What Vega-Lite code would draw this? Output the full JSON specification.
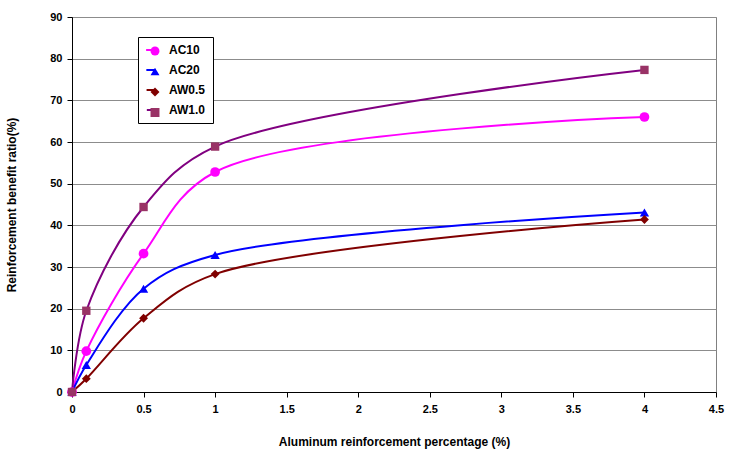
{
  "$schema": "https://vega.github.io/schema/vega-lite/v6.json",
  "width": 644,
  "height": 375,
  "autosize": {"type": "none"},
  "padding": {"left": 72, "top": 17, "right": 19, "bottom": 72},
  "background": "white",
  "config": {
    "font": "Liberation Sans",
    "view": {"stroke": "#808080", "strokeWidth": 1},
    "axis": {
      "labelFont": "Liberation Sans",
      "labelFontWeight": "bold",
      "labelFontSize": 11,
      "labelColor": "black",
      "labelFlush": false,
      "titleFont": "Liberation Sans",
      "titleFontWeight": "bold",
      "titleFontSize": 12,
      "titleColor": "black",
      "domainColor": "black",
      "tickColor": "black",
      "tickSize": 5,
      "gridColor": "#8c8c8c",
      "gridOpacity": 1
    },
    "legend": {
      "orient": "none",
      "labelFont": "Liberation Sans",
      "labelFontSize": 12,
      "labelFontWeight": "bold",
      "labelColor": "black",
      "padding": 7,
      "title": null
    }
  },
  "data": {
    "values": [
      {"x": 0, "y": 0, "s": "AC10"},
      {"x": 0.1, "y": 9.8, "s": "AC10"},
      {"x": 0.5, "y": 33.2, "s": "AC10"},
      {"x": 1, "y": 52.8, "s": "AC10"},
      {"x": 4, "y": 66.0, "s": "AC10"},
      {"x": 0, "y": 0, "s": "AC20"},
      {"x": 0.1, "y": 6.5, "s": "AC20"},
      {"x": 0.5, "y": 24.8, "s": "AC20"},
      {"x": 1, "y": 32.9, "s": "AC20"},
      {"x": 4, "y": 43.1, "s": "AC20"},
      {"x": 0, "y": 0, "s": "AW0.5"},
      {"x": 0.1, "y": 3.2, "s": "AW0.5"},
      {"x": 0.5, "y": 17.7, "s": "AW0.5"},
      {"x": 1, "y": 28.3, "s": "AW0.5"},
      {"x": 4, "y": 41.4, "s": "AW0.5"},
      {"x": 0, "y": 0, "s": "AW1.0"},
      {"x": 0.1, "y": 19.5, "s": "AW1.0"},
      {"x": 0.5, "y": 44.4, "s": "AW1.0"},
      {"x": 1, "y": 58.9, "s": "AW1.0"},
      {"x": 4, "y": 77.3, "s": "AW1.0"}
    ]
  },
  "encoding": {
    "x": {
      "field": "x", "type": "quantitative",
      "scale": {"domain": [0, 4.5], "nice": false, "zero": true},
      "axis": {
        "title": "Aluminum reinforcement percentage (%)",
        "values": [0, 0.5, 1, 1.5, 2, 2.5, 3, 3.5, 4, 4.5],
        "labelExpr": "'' + datum.value",
        "grid": false,
        "labelPadding": 6,
        "titlePadding": 22
      }
    },
    "y": {
      "field": "y", "type": "quantitative",
      "scale": {"domain": [0, 90], "nice": false},
      "axis": {
        "title": "Reinforcement benefit ratio(%)",
        "values": [0, 10, 20, 30, 40, 50, 60, 70, 80, 90],
        "grid": true,
        "labelPadding": 5,
        "titlePadding": 31
      }
    }
  },
  "layer": [
    {
      "mark": {"type": "line", "interpolate": "catmull-rom", "strokeWidth": 2},
      "encoding": {
        "color": {
          "field": "s", "type": "nominal",
          "scale": {"domain": ["AC10", "AC20", "AW0.5", "AW1.0"], "range": ["#ff00ff", "#0000ff", "#800000", "#800080"]},
          "legend": {
            "orient": "none",
            "legendX": 66,
            "legendY": 20,
            "symbolType": "stroke",
            "symbolSize": 729,
            "symbolStrokeWidth": 2,
            "labelOffset": 12,
            "rowPadding": 8,
            "strokeColor": "black",
            "fillColor": "white"
          }
        }
      }
    },
    {
      "mark": {"type": "point", "filled": true, "opacity": 1},
      "encoding": {
        "fill": {
          "field": "s", "type": "nominal",
          "scale": {"domain": ["AW1.0", "AW0.5", "AC20", "AC10"], "range": ["#993366", "#800000", "#0000ff", "#ff00ff"]},
          "legend": {
            "values": ["AC10", "AC20", "AW0.5", "AW1.0"],
            "orient": "none",
            "legendX": 70,
            "legendY": 20,
            "symbolSize": 80,
            "clipHeight": 14,
            "rowPadding": 6.5,
            "labelExpr": "''",
            "labelOffset": 0
          }
        },
        "shape": {
          "field": "s", "type": "nominal",
          "scale": {"domain": ["AW1.0", "AW0.5", "AC20", "AC10"], "range": ["square", "diamond", "triangle-up", "circle"]},
          "legend": {
            "values": ["AC10", "AC20", "AW0.5", "AW1.0"],
            "orient": "none",
            "legendX": 70,
            "legendY": 20,
            "symbolSize": 80,
            "clipHeight": 14,
            "rowPadding": 6.5,
            "labelExpr": "''",
            "labelOffset": 0
          }
        },
        "size": {
          "field": "s", "type": "nominal",
          "scale": {"domain": ["AC10", "AC20", "AW0.5", "AW1.0"], "range": [95, 70, 60, 60]},
          "legend": null
        }
      }
    }
  ]
}
